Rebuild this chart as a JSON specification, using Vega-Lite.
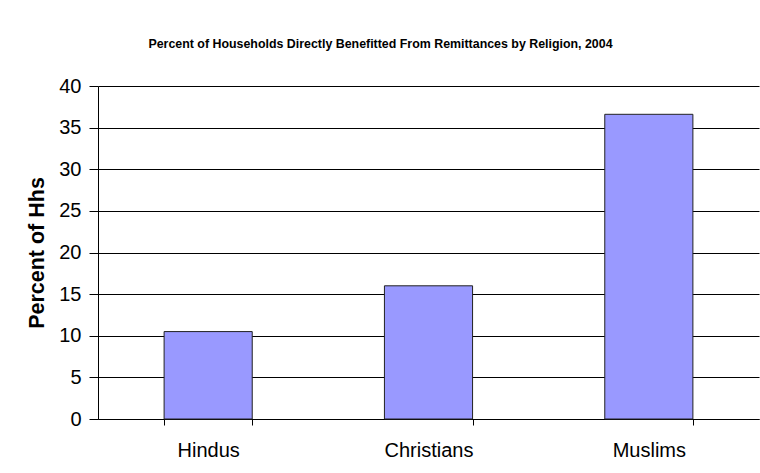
{
  "$schema": "https://vega.github.io/schema/vega-lite/v6.json",
  "width": 661,
  "height": 333,
  "autosize": "none",
  "padding": {"left": 98, "top": 86, "right": 1, "bottom": 54},
  "background": "white",
  "title": {
    "text": "Percent of Households Directly Benefitted From Remittances by Religion, 2004",
    "font": "Liberation Sans",
    "fontSize": 12.4,
    "fontWeight": "bold",
    "color": "black",
    "anchor": "middle",
    "dx": -48,
    "offset": 26
  },
  "data": {
    "values": [
      {"religion": "Hindus", "percent": 10.5},
      {"religion": "Christians", "percent": 16.0},
      {"religion": "Muslims", "percent": 36.6}
    ]
  },
  "mark": {"type": "bar", "color": "#9999FF", "stroke": "#222222", "strokeWidth": 1},
  "encoding": {
    "x": {
      "field": "religion",
      "type": "nominal",
      "sort": null,
      "scale": {"paddingInner": 0.6, "paddingOuter": 0.3},
      "axis": {
        "title": null,
        "labelAngle": 0,
        "labelFont": "Liberation Sans",
        "labelFontSize": 20,
        "labelColor": "black",
        "labelPadding": 15,
        "tickBand": "extent",
        "tickColor": "black",
        "tickSize": 6,
        "domainColor": "black",
        "grid": false
      }
    },
    "y": {
      "field": "percent",
      "type": "quantitative",
      "scale": {"domain": [0, 40], "nice": false},
      "axis": {
        "title": "Percent of Hhs",
        "titleFont": "Liberation Sans",
        "titleFontSize": 21.5,
        "titleFontWeight": "bold",
        "titleColor": "black",
        "titlePadding": 10,
        "values": [0, 5, 10, 15, 20, 25, 30, 35, 40],
        "labelFont": "Liberation Sans",
        "labelFontSize": 20,
        "labelColor": "black",
        "labelPadding": 8,
        "tickColor": "black",
        "tickSize": 9,
        "domainColor": "black",
        "gridColor": "black",
        "gridOpacity": 1
      }
    }
  },
  "config": {
    "view": {"stroke": null},
    "axis": {"domainWidth": 1, "tickWidth": 1, "gridWidth": 1}
  }
}
